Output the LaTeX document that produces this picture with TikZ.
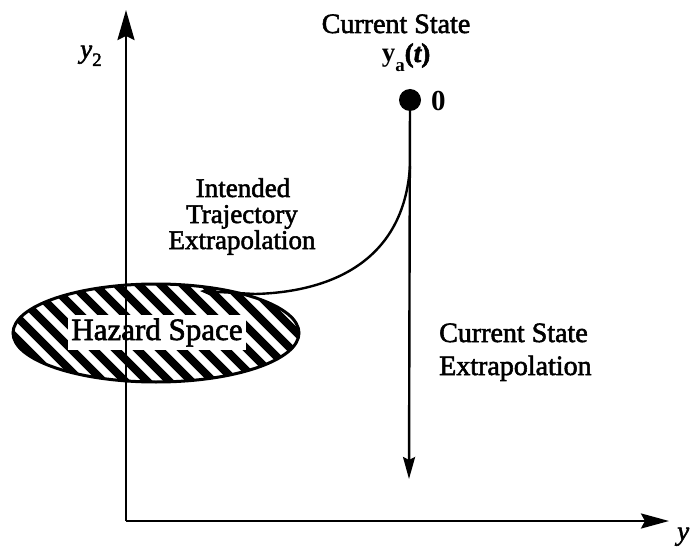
\documentclass[tikz,border=0pt]{standalone}
\usepackage{fontspec}
\setmainfont{Liberation Serif}
\newfontfamily\hv{Liberation Serif}[FakeBold=2]
\newfontfamily\hvi{Liberation Serif Italic}[FakeBold=2]
\usetikzlibrary{arrows.meta}
\tikzset{
  txt/.style={font=\hv\fontsize{27}{29}\selectfont, inner sep=0pt, anchor=base},
  axis/.style={line width=2.6pt},
}
\begin{document}
\begin{tikzpicture}[x=1pt,y=-1pt]
\useasboundingbox (0,0) rectangle (696,548);
% hazard space ellipse with hatching
\begin{scope}
  \clip (156,333) ellipse [x radius=143, y radius=49];
  \foreach \i in {-140,-118,...,320} {
    \draw[line width=8pt] (\i,270) -- (\i+130,400);
  }
\end{scope}
\draw[line width=3pt] (156,333) ellipse [x radius=143, y radius=49];
\node[txt, font=\hv\fontsize{31}{33}\selectfont, fill=white, inner xsep=3pt, inner ysep=3pt, anchor=base] (hz) at (157,340) {Hazard Space};
% axes
\coordinate (o) at (126,521);
\coordinate (ytop) at (126,10);
\coordinate (xend) at (669,521);
\draw[axis, -{Stealth[length=30pt,width=17pt,inset=4pt]}] (o) -- (ytop);
\draw[axis, -{Stealth[length=28pt,width=15pt,inset=4pt]}] (o) -- (xend);
\node[font=\hvi\fontsize{27}{29}\selectfont, anchor=base west, inner sep=0pt] (ylab) at (677,540) {y};
\node[anchor=base west, inner sep=0pt] (y2lab) at (80,58) {\hvi\fontsize{27}{29}\selectfont y\raisebox{-8pt}{\hv\fontsize{19}{20}\selectfont 2}};
% current state
\node[circle, fill=black, minimum size=22pt, inner sep=0pt] (dot) at (410,100) {};
\node[font=\fontsize{29}{31}\selectfont\bfseries, anchor=west, inner sep=0pt] (zero) at (431,101) {0};
\node[txt, font=\hv\fontsize{28}{30}\selectfont] (title) at (396,33) {Current State};
\node[anchor=base, inner sep=0pt] (ya) at (406,62) {\fontsize{27}{29}\selectfont\bfseries y\raisebox{-10pt}{\fontsize{19}{20}\selectfont a}\hv(\hvi t\hv)};
\coordinate (cend) at (409,479);
\draw[line width=2.4pt, -{Stealth[length=22pt,width=12pt,inset=3pt]}] (dot) -- (cend);
% intended trajectory
\coordinate (branch) at (410,166);
\coordinate (tend) at (200,291);
\draw[line width=2.4pt, -{Stealth[length=12pt,width=9pt]}] (branch) .. controls (404,262) and (330,292) .. (255,294) -- (tend);
% labels
\node[txt] (it1) at (243,197) {Intended};
\node[txt] (it2) at (242,223) {Trajectory};
\node[txt] (it3) at (242,249) {Extrapolation};
\node[txt, font=\hv\fontsize{28}{30}\selectfont, anchor=base west] (cs1) at (439,342) {Current State};
\node[txt, font=\hv\fontsize{28}{30}\selectfont, anchor=base west] (cs2) at (439,375) {Extrapolation};
\end{tikzpicture}
\end{document}
